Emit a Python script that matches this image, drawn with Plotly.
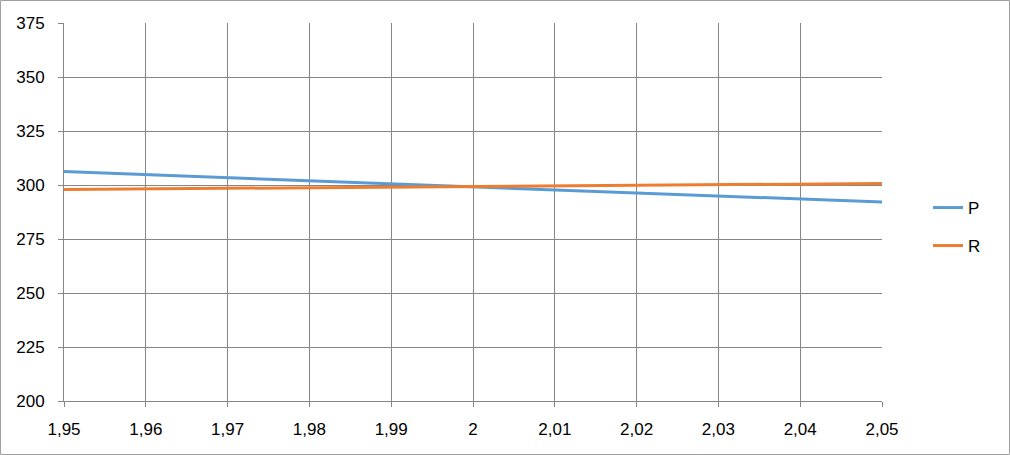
import plotly.graph_objects as go

x_vals = [1.95, 1.96, 1.97, 1.98, 1.99, 2.00, 2.01, 2.02, 2.03, 2.04, 2.05]
p_vals = [306.2, 304.8, 303.4, 301.9, 300.5, 299.1, 297.7, 296.3, 294.9, 293.5, 292.1]
r_vals = [297.9, 298.2, 298.5, 298.8, 299.0, 299.3, 299.6, 299.9, 300.1, 300.4, 300.7]
y_ticks = [200, 225, 250, 275, 300, 325, 350, 375]

W, H = 1010, 455
ml, mr, mt, mb = 64, 128, 23, 54
pw, ph = W - ml - mr, H - mt - mb

grid = "#868686"
font = dict(family="Liberation Sans, Arial, sans-serif", size=17, color="#000000")

fig = go.Figure()
fig.add_trace(go.Scatter(x=x_vals, y=p_vals, mode="lines", name="P",
                         line=dict(color="#5B9BD5", width=3), legend="legend"))
fig.add_trace(go.Scatter(x=x_vals, y=r_vals, mode="lines", name="R",
                         line=dict(color="#ED7D31", width=3), legend="legend2"))

fig.update_layout(
    width=W, height=H,
    margin=dict(l=ml, r=mr, t=mt, b=mb),
    paper_bgcolor="white", plot_bgcolor="white",
    separators=",.",
    font=font,
    showlegend=True,
    legend=dict(x=(928 - ml) / pw, y=1 - (208 - mt) / ph, xanchor="left", yanchor="middle",
                bgcolor="rgba(0,0,0,0)", font=font),
    legend2=dict(x=(928 - ml) / pw, y=1 - (246 - mt) / ph, xanchor="left", yanchor="middle",
                 bgcolor="rgba(0,0,0,0)", font=font),
    xaxis=dict(range=[1.95, 2.05], dtick=0.01, tick0=1.95, tickformat=".2~f",
               showgrid=True, gridcolor=grid, gridwidth=1,
               showline=True, linecolor=grid, linewidth=1,
               ticks="outside", ticklen=5, tickcolor=grid,
               ticklabelstandoff=8, zeroline=False, tickfont=font),
    yaxis=dict(range=[200, 375], tickvals=y_ticks,
               showgrid=True, gridcolor=grid, gridwidth=1,
               showline=True, linecolor=grid, linewidth=1,
               ticks="outside", ticklen=5, tickcolor=grid,
               ticklabelstandoff=10, zeroline=False, tickfont=font),
    shapes=[dict(type="rect", xref="paper", yref="paper",
                 x0=(-ml + 0.5) / pw, x1=(W - ml - 0.5) / pw,
                 y0=(-mb + 0.5) / ph, y1=(H - mb - 0.5) / ph,
                 line=dict(color="#a0a0a0", width=1), layer="below")],
)

fig.write_html("out.html", config={"displayModeBar": False},
               post_script="document.body.style.margin='0';document.body.style.overflow='hidden';")
